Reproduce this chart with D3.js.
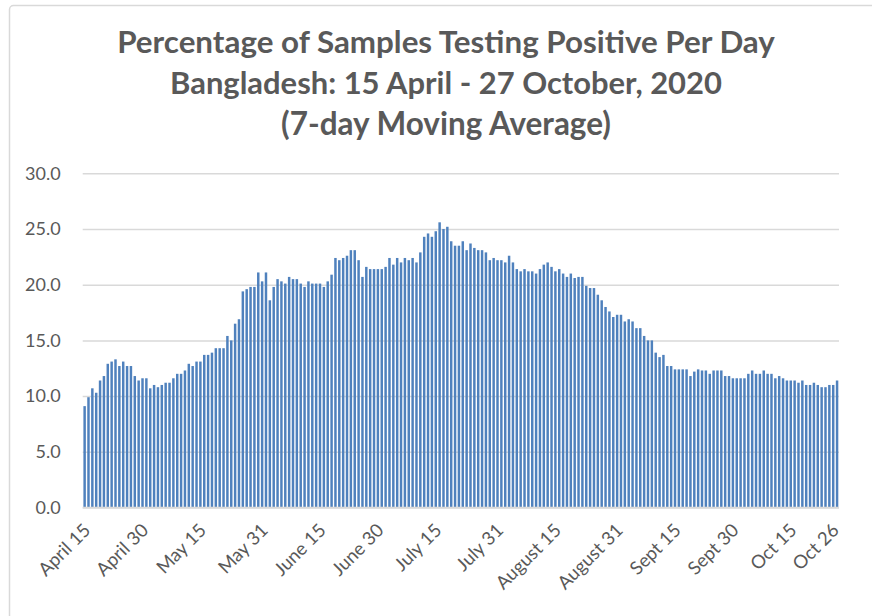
<!DOCTYPE html>
<html>
<head>
<meta charset="utf-8">
<script src="https://cdn.jsdelivr.net/npm/d3@7/dist/d3.min.js"></script>
<style>
  html, body { margin: 0; padding: 0; background: #fff; }
  svg { display: block; font-family: Lato, "Open Sans", sans-serif; }
</style>
</head>
<body>
<svg id="chart" width="872" height="616"></svg>
<script>
// Daily series: 15 April – 27 October 2020
const startDay = "2020-04-15";
const endDay = "2020-10-27";

// 7-day moving average of the share of samples testing positive (%)
const positivity = [
  9.1, 9.9, 10.7, 10.3, 11.4, 11.8, 12.9, 13.1, 13.3, 12.7,
  13.1, 12.7, 12.7, 11.8, 11.4, 11.6, 11.6, 10.7, 11.0, 10.8,
  11.0, 11.2, 11.2, 11.6, 12.0, 12.0, 12.3, 12.9, 12.7, 13.1,
  13.1, 13.7, 13.7, 13.9, 14.3, 14.3, 14.3, 15.4, 15.0, 16.5,
  16.9, 19.4, 19.6, 19.8, 19.8, 21.1, 20.3, 21.1, 18.6, 19.8,
  20.5, 20.3, 20.1, 20.7, 20.5, 20.5, 20.1, 19.8, 20.3, 20.1,
  20.1, 20.1, 19.8, 20.3, 20.9, 22.4, 22.2, 22.4, 22.6, 23.1,
  23.1, 22.2, 20.7, 21.6, 21.4, 21.4, 21.4, 21.4, 21.6, 22.4,
  21.8, 22.4, 22.0, 22.4, 22.2, 22.4, 22.0, 22.9, 24.3, 24.6,
  24.3, 24.8, 25.6, 25.0, 25.2, 23.9, 23.5, 23.5, 23.9, 23.1,
  23.7, 23.3, 23.1, 23.1, 22.9, 22.2, 22.4, 22.2, 22.2, 22.0,
  22.6, 22.0, 21.4, 21.2, 21.4, 21.2, 21.2, 21.0, 21.4, 21.8,
  22.0, 21.6, 21.2, 21.4, 21.0, 20.7, 21.0, 20.6, 20.7, 20.7,
  19.9, 19.7, 19.7, 19.1, 18.6, 18.0, 17.6, 17.1, 17.3, 17.3,
  16.7, 16.9, 16.7, 16.1, 16.1, 15.4, 15.0, 15.0, 13.9, 13.5,
  13.7, 12.7, 12.7, 12.4, 12.4, 12.4, 12.4, 11.8, 12.2, 12.4,
  12.3, 12.3, 12.0, 12.3, 12.3, 12.3, 11.8, 11.8, 11.6, 11.6,
  11.6, 11.6, 12.0, 12.3, 12.0, 12.0, 12.3, 12.0, 12.0, 11.6,
  11.8, 11.6, 11.4, 11.4, 11.4, 11.2, 11.4, 11.0, 11.0, 11.2,
  11.0, 10.8, 10.8, 11.0, 11.0, 11.4
];

// Category labels shown along the x axis
const tickDates = [
  "2020-04-15", "2020-04-30", "2020-05-15", "2020-05-31", "2020-06-15",
  "2020-06-30", "2020-07-15", "2020-07-31", "2020-08-15", "2020-08-31",
  "2020-09-15", "2020-09-30", "2020-10-15", "2020-10-26"
];
const tickLabels = [
  "April 15", "April 30", "May 15", "May 31", "June 15",
  "June 30", "July 15", "July 31", "August 15", "August 31",
  "Sept 15", "Sept 30", "Oct 15", "Oct 26"
];

const yTicks = [0, 5, 10, 15, 20, 25, 30];

const titleLines = [
  "Percentage of Samples Testing Positive Per Day",
  "Bangladesh: 15 April - 27 October, 2020",
  "(7-day Moving Average)"
];

const parse = d3.utcParse("%Y-%m-%d");
const fmtKey = d3.utcFormat("%Y-%m-%d");
const days = d3.utcDay.range(parse(startDay), d3.utcDay.offset(parse(endDay), 1)).map(fmtKey);
const data = days.map((d, i) => ({ day: d, value: positivity[i] }));
const labelFor = new Map(tickDates.map((d, i) => [d, tickLabels[i]]));

const svg = d3.select("#chart");
const textColor = "#595959";
const gridColor = "#d9d9d9";

// chart frame
svg.append("rect")
  .attr("x", 9.5).attr("y", 5.5)
  .attr("width", 900).attr("height", 700)
  .attr("rx", 4)
  .attr("fill", "none")
  .attr("stroke", gridColor)
  .attr("stroke-width", 1.5);

const plot = { left: 82.7, right: 839, top: 173.3, bottom: 507.5 };

const x = d3.scaleBand()
  .domain(days)
  .range([plot.left, plot.right])
  .paddingInner(0.36)
  .paddingOuter(0.18);

const y = d3.scaleLinear()
  .domain([0, 30])
  .range([plot.bottom, plot.top]);

// title
const title = svg.append("g").attr("class", "title");
const titleWidths = [658, 552, 330];
titleLines.forEach((line, i) => {
  const t = title.append("text")
    .attr("x", 446)
    .attr("y", 53 + i * 41)
    .attr("text-anchor", "middle")
    .attr("font-weight", "bold")
    .attr("font-size", 26)
    .attr("fill", textColor)
    .text(line);
  const w = t.node().getComputedTextLength();
  t.attr("font-size", 26 * titleWidths[i] / w);
});

// y gridlines + labels
const yAxis = d3.axisLeft(y)
  .tickValues(yTicks)
  .tickSize(-(plot.right - plot.left))
  .tickPadding(22)
  .tickFormat(d3.format(".1f"));

const gy = svg.append("g")
  .attr("transform", `translate(${plot.left},0)`)
  .call(yAxis);
gy.select(".domain").remove();
gy.selectAll(".tick line").attr("stroke", gridColor).attr("stroke-width", 1.5);
gy.selectAll(".tick text")
  .attr("fill", textColor)
  .attr("font-size", 18)
  .attr("font-family", "Lato, sans-serif");

// bars
svg.append("g")
  .selectAll("rect")
  .data(data)
  .join("rect")
  .attr("x", d => x(d.day))
  .attr("width", x.bandwidth())
  .attr("y", d => y(d.value))
  .attr("height", d => y(0) - y(d.value))
  .attr("fill", "#4f81bd");

// x axis
const xAxis = d3.axisBottom(x)
  .tickValues(tickDates)
  .tickSize(0)
  .tickPadding(0)
  .tickFormat(d => labelFor.get(d));

const gx = svg.append("g")
  .attr("transform", `translate(0,${plot.bottom})`)
  .call(xAxis);
gx.select(".domain")
  .attr("stroke", gridColor)
  .attr("stroke-width", 1.5)
  .attr("d", `M${plot.left},0H${plot.right}`);
gx.selectAll(".tick text")
  .attr("fill", textColor)
  .attr("font-size", 18.5)
  .attr("font-family", "Lato, sans-serif")
  .attr("text-anchor", "end")
  .attr("dy", null)
  .attr("y", 0)
  .attr("transform", "translate(7,24) rotate(-45)");
</script>
</body>
</html>
